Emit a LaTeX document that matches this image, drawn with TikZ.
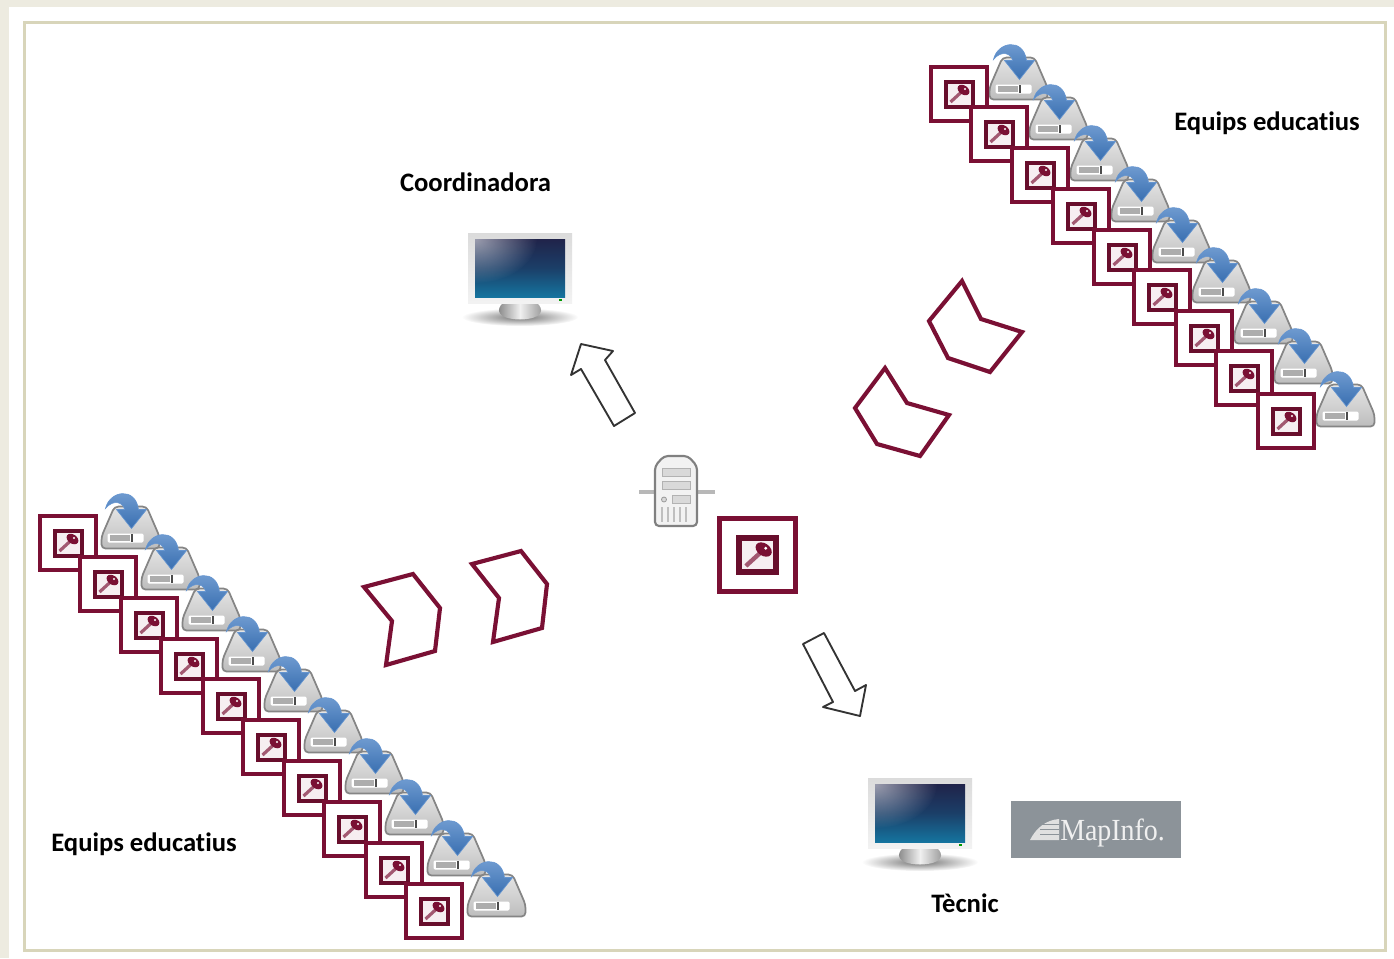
\documentclass[tikz,border=0pt]{standalone}
\usepackage{fontspec}
\setmainfont[Ligatures=NoCommon]{Carlito}
\newfontfamily\logofont[FakeStretch=0.91]{Liberation Serif}
\usetikzlibrary{fadings}
\definecolor{maroon}{HTML}{7A1034}
\definecolor{cream}{HTML}{EDEBE0}
\definecolor{khaki}{HTML}{D8D5BA}
\definecolor{logogray}{HTML}{8C9399}
\definecolor{driveblue}{HTML}{3F7BC4}
\definecolor{scrtop}{HTML}{20234A}
\definecolor{scrmid}{HTML}{1B3F68}
\definecolor{scrbot}{HTML}{15749F}
\tikzfading[name=screenglow, inner color=transparent!45, outer color=transparent!100]
\tikzfading[name=softshadow, inner color=transparent!0, outer color=transparent!100]
\tikzset{
  x=0.75pt, y=-0.75pt,
  lbl/.style={font=\fontsize{20}{24}\selectfont\bfseries, text=black, inner sep=0pt},
  blockarrow/.style={draw=black!80, line width=1.4pt, fill=white, line join=round},
  chevron/.style={draw=maroon, line width=3.1pt, fill=white, line join=miter},
}
\newcommand\keyicon[3]{%
  \begin{scope}[shift={(#1,#2)},scale=#3]
    \fill[white] (-29.5,-28.5) rectangle (29.5,28.5);
    \draw[maroon,line width=#3*2.8pt] (-27.7,-26.7) rectangle (27.7,26.7);
    \fill[white!93!maroon] (-15,-13.5) rectangle (15,13.5);
    \draw[maroon!85!black,line width=#3*3pt] (-13.5,-12.5) rectangle (13.5,12.5);
    \draw[maroon!70!white,line width=#3*2.4pt] (-8.5,8) -- (3,-2.5);
    \fill[maroon,rotate around={-35:(4.5,-4)}] (4.5,-4) ellipse [x radius=6.5,y radius=4.5];
    \fill[white] (6,-5) circle [radius=1.2];
  \end{scope}}
\newcommand\driveicon[2]{%
  \begin{scope}[shift={(#1,#2)}]
    \draw[draw=black!48,line width=1.3pt,top color=black!10,bottom color=black!26,rounded corners=3pt]
      (-17,-22) -- (15,-22) -- (28,8) -- (28,20) -- (-30,20) -- (-30,8) -- cycle;
    \fill[white,rounded corners=1pt] (-24,5) rectangle (12,14);
    \fill[black!32] (-22,6.5) rectangle (-2,12.5);
    \fill[black!70] (-1,5.5) rectangle (1.5,13);
    \path[draw=driveblue!80!white,line width=.5pt,top color=driveblue!70!white,bottom color=driveblue!90!black]
      (-26,-20) .. controls (-22,-38) and (4,-42) .. (7,-19) -- (15,-19) -- (0,0) -- (-15,-19) -- (-7,-19)
      .. controls (-8,-26) and (-18,-30) .. cycle;
  \end{scope}}
\newcommand\monitoricon[2]{%
  \begin{scope}[shift={(#1,#2)}]
    \fill[black!55,path fading=softshadow] (0,14) ellipse [x radius=58,y radius=9];
    \shade[left color=black!50,right color=black!42,middle color=black!6]
      (-17,0) .. controls (-24,6) and (-24,16) .. (0,16.5)
      .. controls (24,16) and (24,6) .. (17,0) -- cycle;
    \shade[top color=black!14,bottom color=black!5] (-52,-70) rectangle (52,0);
    \shade[top color=scrtop,bottom color=scrbot,middle color=scrmid] (-45,-64) rectangle (45,-6);
    \begin{scope}
      \clip (-45,-64) rectangle (45,-6);
      \fill[white,path fading=screenglow] (-45,-64) ellipse [x radius=62,y radius=44];
    \end{scope}
    \fill[green!60!black] (39,-4) rectangle (42,-2.5);
  \end{scope}}
\begin{document}
\begin{tikzpicture}
\useasboundingbox (0,0) rectangle (1394,958);
\fill[cream] (0,0) rectangle (1394,958);
\fill[white] (9,7) rectangle (1394,958);
\draw[khaki,line width=1.7pt,fill=white] (24.5,22.5) rectangle (1385.5,950.5);

% top right stack
\foreach \kx/\ky in {959/94,999/134,1040/175,1081/216,1122/257,1162/297,1204/338,1244/378,1286/421}{
  \pgfmathsetmacro\tx{\kx+60.5}\pgfmathsetmacro\ty{\ky-14.5}
  \driveicon{\tx}{\ty}
  \keyicon{\kx}{\ky}{1}
}
% lower left stack
\foreach \kx/\ky in {68/543,108/584,149/625,189/666,231/706,271/747,312/788,352/829,394/870,434/911}{
  \pgfmathsetmacro\tx{\kx+63.5}\pgfmathsetmacro\ty{\ky-14.5}
  \driveicon{\tx}{\ty}
  \keyicon{\kx}{\ky}{1}
}

% monitors
\monitoricon{520}{303}
\monitoricon{920}{848}

% server
\draw[black!28,line width=2.6pt] (639,492) -- (655,492);
\draw[black!28,line width=2.6pt] (697,492) -- (715,492);
\draw[black!50,line width=1.6pt,fill=black!5,rounded corners=3pt]
  (655,466) -- (664,456) -- (688,456) -- (697,466) -- (697,526) -- (655,526) -- cycle;
\foreach \yy in {468,481}{\draw[black!30,fill=black!15,line width=.6pt] (662,\yy) rectangle (690,\yy+8);}
\draw[black!30,fill=black!15,line width=.6pt] (672,495) rectangle (690,503);
\draw[black!40,fill=black!15,line width=.6pt] (664,499.5) circle [radius=2.5];
\foreach \xx in {662,668,674,680,686}{\draw[black!25,line width=1.2pt] (\xx,507) -- (\xx,522);}

% central key
\keyicon{757.5}{555}{1.37}

% block arrows
\draw[blockarrow] (581,344) -- (613,351) -- (605,360) -- (635,413) -- (614,426) -- (581,369) -- (571,375) -- cycle;
\draw[blockarrow] (824,633) -- (803,644) -- (833,702) -- (823,707) -- (860,716) -- (866,685) -- (855,691) -- cycle;

% chevrons
\draw[chevron] (364,587) -- (413,574) -- (440,608) -- (435,651) -- (386,665) -- (392,621) -- cycle;
\draw[chevron] (472,564) -- (521,551) -- (547,584) -- (542,628) -- (493,642) -- (499,598) -- cycle;
\draw[chevron] (962,281) -- (929,321) -- (948,358) -- (990,372) -- (1022,332) -- (981,319) -- cycle;
\draw[chevron] (885,368) -- (855,408) -- (877,444) -- (920,456) -- (949,415) -- (907,403) -- cycle;

% MapInfo logo
\fill[logogray] (1011,801) rectangle (1181,858);
\fill[black!12] (1030,840) .. controls (1036,828) and (1046,820) .. (1059,819) -- (1059,840) -- cycle;
\foreach \yy in {824,829,834}{\draw[logogray,line width=.5pt] (1040,\yy) -- (1059,\yy);}
\node[font=\logofont\fontsize{23}{26}\selectfont,text=black!6,inner sep=0pt,anchor=base west] (mapinfo) at (1060,840) {MapInfo.};

% labels
\node[lbl] (coord) at (475.5,182) {Coordinadora};
\node[lbl] (eqtr) at (1267,123.5) {Equips educatius};
\node[lbl] (eqbl) at (144,844.5) {Equips educatius};
\node[lbl] (tecnic) at (965,903) {Tècnic};
\end{tikzpicture}
\end{document}
